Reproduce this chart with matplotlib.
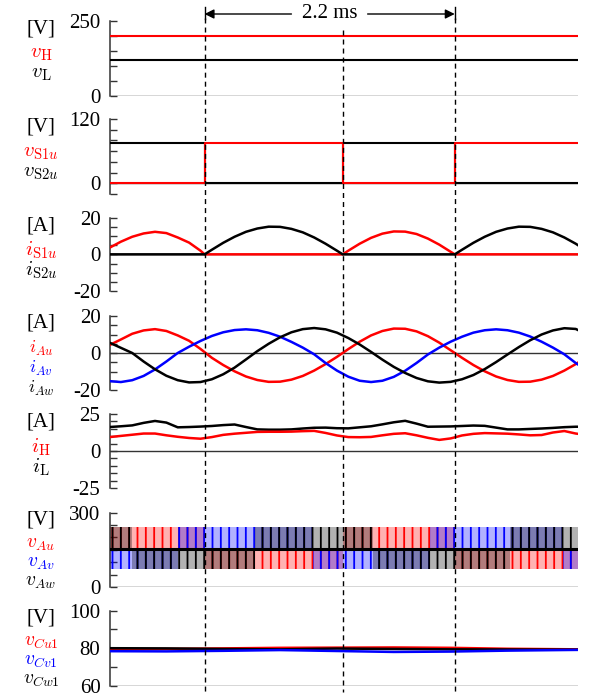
import matplotlib
matplotlib.use("Agg")
import matplotlib.pyplot as plt
from matplotlib.lines import Line2D
from matplotlib.patches import FancyArrowPatch

plt.rcParams["font.family"] = ["Liberation Serif", "DejaVu Serif"]
plt.rcParams["mathtext.fontset"] = "cm"
plt.rcParams["hatch.linewidth"] = 1.3

RED, BLUE, BLACK = "#ff0000", "#0000ff", "#000000"

# time axis in ms
T_END = 4.12
MARKS = [0.836, 2.051, 3.036]          # dashed lines (first to last = 2.2 ms)
T_GRID = [0.0, 0.1, 0.2, 0.3, 0.4, 0.5, 0.6, 0.7, 0.8, 0.9, 1.0, 1.1, 1.2, 1.3,
          1.4, 1.5, 1.6, 1.7, 1.8, 1.9, 2.0, 2.1, 2.2, 2.3, 2.4, 2.5, 2.6, 2.7,
          2.8, 2.9, 3.0, 3.1, 3.2, 3.3, 3.4, 3.5, 3.6, 3.7, 3.8, 3.9, 4.0, 4.1, 4.12]

# panel 1: dc voltages
V_H = 200
V_L = 120

# panel 2: switch voltages (step changes)
SW_T = [0.0, 0.836, 2.051, 3.036, 4.12]
V_S1U = [0, 76, 0, 76, 76]
V_S2U = [76, 0, 76, 0, 0]

# panel 3: switch currents
T_S1 = [0.0, 0.1, 0.2, 0.3, 0.4, 0.5, 0.6, 0.7, 0.8, 0.836,
        2.051, 2.1, 2.2, 2.3, 2.4, 2.5, 2.6, 2.7, 2.8, 2.9, 3.0, 3.036, 4.12]
I_S1U = [3.6, 6.9, 9.6, 11.4, 12.3, 11.6, 9.2, 6.4, 2.0, 0.0,
         0.0, 2.0, 5.8, 9.0, 11.3, 12.5, 12.4, 11.1, 8.6, 5.3, 1.4, 0.0, 0.0]
T_S2 = [0.0, 0.836, 0.9, 1.0, 1.1, 1.2, 1.3, 1.4, 1.5, 1.6, 1.7, 1.8, 1.9, 2.0,
        2.051, 3.036, 3.1, 3.2, 3.3, 3.4, 3.5, 3.6, 3.7, 3.8, 3.9, 4.0, 4.1, 4.12]
I_S2U = [0.0, 0.0, 2.5, 6.3, 9.6, 12.3, 14.1, 15.1, 15.0, 13.9, 12.0, 9.2, 5.8, 2.0,
         0.0, 0.0, 2.5, 6.3, 9.6, 12.3, 14.1, 15.1, 15.0, 13.9, 12.0, 9.2, 5.8, 5.0]

# panel 4: phase currents (on T_GRID)
I_AU = [4.3, 7.3, 10.4, 12.2, 12.9, 11.9, 9.5, 6.6, 2.2,
        -2.6, -6.5, -9.9, -12.7, -14.6, -15.6, -15.5, -14.4, -12.4, -9.5, -6.0, -2.1,
        2.1, 6.1, 9.5, 11.9, 13.2, 13.1, 11.7, 9.1, 5.6, 1.5,
        -2.6, -6.5, -9.9, -12.7, -14.6, -15.6, -15.5, -14.4, -12.4, -9.5, -6.0, -5.2]
I_AV = [-15.2, -15.7, -14.7, -12.4, -8.9, -4.6, 0.0, 3.4, 6.5, 9.2, 11.2, 12.4, 12.8,
        12.3, 10.9, 8.8, 6.0, 2.9, -0.7, -5.4, -9.5, -12.8, -15.0, -15.7, -15.0, -12.9,
        -9.6, -5.4, -0.8, 2.9, 6.1, 8.8, 11.0, 12.3, 12.8, 12.3, 11.0, 8.9, 6.1, 2.9,
        -0.7, -5.4, -6.2]
I_AW = [5.6, 2.8, 0.0, -4.6, -8.8, -12.3, -14.7, -15.9, -15.7, -14.2, -11.5, -7.9,
        -3.5, 1.0, 5.0, 8.5, 11.2, 12.9, 13.5, 12.8, 11.0, 8.1, 4.6, 0.6, -3.6, -7.5,
        -10.8, -13.5, -15.3, -16.0, -15.6, -14.2, -11.9, -8.7, -4.9, -0.8, 3.2, 6.9,
        10.0, 12.2, 13.4, 13.0, 12.4]

# panel 5: dc currents (on T_GRID)
I_H = [9.4, 10.2, 11.0, 11.8, 11.8, 10.6, 9.6, 8.8, 8.3, 9.4, 10.9, 11.7, 12.3, 12.9,
       13.0, 13.0, 13.1, 13.4, 13.6, 12.2, 10.5, 9.4, 9.3, 9.5, 10.6, 11.6, 12.0, 10.6,
       8.9, 7.5, 8.5, 10.5, 11.6, 12.1, 11.9, 11.7, 11.2, 10.6, 10.8, 12.5, 13.5, 11.8,
       11.6]
I_L = [16.2, 16.7, 17.3, 19.0, 20.3, 19.2, 16.0, 16.2, 16.5, 16.9, 17.5, 17.9, 16.2,
       14.6, 14.4, 14.4, 14.6, 15.2, 15.7, 15.8, 15.4, 15.3, 16.0, 16.7, 18.0, 19.4,
       20.4, 18.5, 16.4, 16.5, 16.6, 16.9, 17.2, 17.0, 15.8, 14.6, 14.6, 14.9, 15.2,
       15.6, 16.1, 16.4, 16.4]

# panel 6: phase voltages, pwm between mid level and upper/lower level per sector
V_MID = 155
U_SECT = [0.0, 0.836, 2.051, 3.036, 4.12]
U_BAND = [240, 75, 240, 75, 75]
V_SECT = [0.0, 0.598, 1.786, 2.816, 3.986, 4.12]
V_BAND = [75, 240, 75, 240, 75, 75]
W_SECT = [0.0, 0.2, 1.276, 2.314, 3.52, 4.12]
W_BAND = [240, 75, 240, 75, 240, 240]

# panel 7: capacitor voltages
T_C = [0.0, 0.5, 1.0, 1.5, 2.0, 2.5, 3.0, 3.5, 4.12]
V_CU1 = [79.5, 79.6, 79.9, 80.2, 80.3, 80.4, 80.2, 79.7, 79.4]
V_CV1 = [78.4, 78.3, 78.6, 79.0, 78.5, 78.0, 78.2, 78.7, 79.1]
V_CW1 = [80.0, 79.9, 79.6, 79.4, 79.8, 79.6, 79.4, 79.3, 79.2]

W, H = 589, 698
fig = plt.figure(figsize=(W / 100, H / 100), dpi=100)

LEFT, RIGHT = 109.5, 578
# (top px, bottom px, ylim, major ticks, minor ticks, unit, labels, label step, label size)
PANELS = [
    (20.7, 95.7, (0, 250), [0, 250], [50, 100, 150, 200], "[V]",
     [(r"$v_{\mathrm{H}}$", RED), (r"$v_{\mathrm{L}}$", BLACK)], 20, 15),
    (119, 194, (-20, 120), [0, 120], [-20, 20, 40, 60, 80, 100], "[V]",
     [(r"$v_{\mathrm{S1}u}$", RED), (r"$v_{\mathrm{S2}u}$", BLACK)], 20, 15),
    (217.7, 291, (-20, 20), [-20, 0, 20], [-15, -10, -5, 5, 10, 15], "[A]",
     [(r"$i_{\mathrm{S1}u}$", RED), (r"$i_{\mathrm{S2}u}$", BLACK)], 20, 15),
    (316, 390, (-20, 20), [-20, 0, 20], [-15, -10, -5, 5, 10, 15], "[A]",
     [(r"$i_{Au}$", RED), (r"$i_{Av}$", BLUE), (r"$i_{Aw}$", BLACK)], 20, 13),
    (414, 488, (-25, 25), [-25, 0, 25], [-20, -15, -10, -5, 5, 10, 15, 20], "[A]",
     [(r"$i_{\mathrm{H}}$", RED), (r"$i_{\mathrm{L}}$", BLACK)], 20, 15),
    (512.5, 587.3, (0, 300), [0, 300], [50, 100, 150, 200, 250], "[V]",
     [(r"$v_{Au}$", RED), (r"$v_{Av}$", BLUE), (r"$v_{Aw}$", BLACK)], 19, 14),
    (610.7, 685.7, (60, 100), [60, 80, 100], [70, 90], "[V]",
     [(r"$v_{Cu1}$", RED), (r"$v_{Cv1}$", BLUE), (r"$v_{Cw1}$", BLACK)], 19, 14),
]

axes = []
for top, bot, ylim, major, minor, unit, labels, step, lsize in PANELS:
    ax = fig.add_axes([LEFT / W, 1 - bot / H, (RIGHT - LEFT) / W, (bot - top) / H])
    ax.set_xlim(0, T_END)
    ax.set_ylim(*ylim)
    for s in ["top", "right", "bottom"]:
        ax.spines[s].set_visible(False)
    ax.spines["left"].set_linewidth(1.1)
    ax.spines["left"].set_color("0.2")
    ax.set_xticks([])
    ax.set_yticks(major)
    ax.set_yticks(minor, minor=True)
    ax.set_yticklabels([str(v) for v in major], fontfamily="Liberation Serif")
    ax.tick_params(axis="y", which="both", direction="in", length=5, width=1,
                   color="0.2", labelsize=15, pad=6.5)
    ax.axhline(max(0, ylim[0]), color="0.2", lw=1.0, zorder=1)
    ax.patch.set_alpha(0)
    # unit + signal names on the left
    yc = top + (7 if len(labels) == 3 else 8)
    fig.text(41 / W, 1 - yc / H, unit, ha="center", va="center", fontsize=15)
    for k, (txt, col) in enumerate(labels):
        fig.text(41 / W, 1 - (yc + 25 + k * step) / H, txt, color=col,
                 ha="center", va="center", fontsize=lsize)
    axes.append(ax)

ax1, ax2, ax3, ax4, ax5, ax6, ax7 = axes

ax1.axhline(V_H, color=RED, lw=1.5, zorder=3)
ax1.axhline(V_L, color=BLACK, lw=1.5, zorder=3)

ax2.step(SW_T, V_S2U, where="post", color=BLACK, lw=1.5, zorder=3)
ax2.step(SW_T, V_S1U, where="post", color=RED, lw=1.5, zorder=3)

ax3.plot(T_S1, I_S1U, color=RED, lw=1.8, zorder=3)
ax3.plot(T_S2, I_S2U, color=BLACK, lw=1.8, zorder=3)

ax4.plot(T_GRID, I_AU, color=RED, lw=1.8, zorder=3)
ax4.plot(T_GRID, I_AV, color=BLUE, lw=1.8, zorder=3)
ax4.plot(T_GRID, I_AW, color=BLACK, lw=1.8, zorder=3)

ax5.plot(T_GRID, I_L, color=BLACK, lw=1.8, zorder=3)
ax5.plot(T_GRID, I_H, color=RED, lw=1.8, zorder=3)

# pwm bands: light fill with vertical hatch for the switching pulses
for sect, band, col in [(U_SECT, U_BAND, RED), (V_SECT, V_BAND, BLUE),
                        (W_SECT, W_BAND, BLACK)]:
    ax6.fill_between(sect, V_MID, band, step="post", facecolor=(col, 0.3),
                     edgecolor=col, hatch="||", lw=0, zorder=2)
ax6.axhline(V_MID, color=BLACK, lw=2.2, zorder=4)

ax7.plot(T_C, V_CU1, color=RED, lw=1.8, zorder=3)
ax7.plot(T_C, V_CW1, color=BLACK, lw=1.8, zorder=3)
ax7.plot(T_C, V_CV1, color=BLUE, lw=1.8, zorder=3)


def fig_x(t):
    return (LEFT + (RIGHT - LEFT) * t / T_END) / W


# dashed time markers across all panels
for k, t in enumerate(MARKS):
    y0 = 18 if k != 1 else 30
    fig.add_artist(Line2D([fig_x(t), fig_x(t)], [1 - y0 / H, 1 - 692 / H],
                          color="k", lw=1.0, dashes=(3.6, 2.9), zorder=10))
    if k != 1:
        fig.add_artist(Line2D([fig_x(t), fig_x(t)], [1 - 7 / H, 1 - 19 / H],
                              color="k", lw=1.0, zorder=10))

# 2.2 ms dimension arrow
ya = 1 - 14 / H
tm = (MARKS[0] + MARKS[2]) / 2
fig.text(fig_x(tm), ya, "2.2 ms", ha="center", va="center", fontsize=15)
for t_from, t_to in [(1.60, MARKS[0]), (2.27, MARKS[2])]:
    fig.add_artist(FancyArrowPatch(
        (fig_x(t_from), ya), (fig_x(t_to), ya), transform=fig.transFigure,
        arrowstyle="-|>", mutation_scale=14, lw=1.0, color="k",
        shrinkA=0, shrinkB=0))

fig.savefig("out.png", dpi=100)
